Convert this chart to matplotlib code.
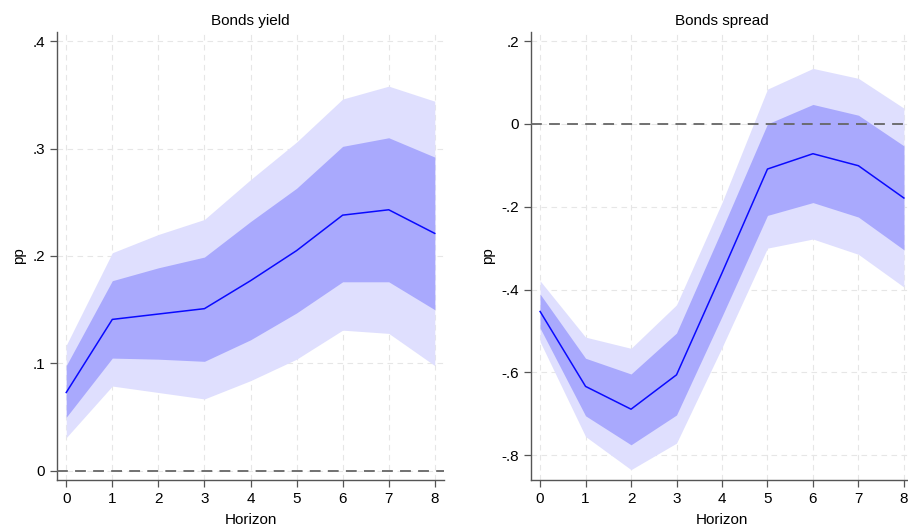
import numpy as np
import matplotlib
matplotlib.use("Agg")
import matplotlib.pyplot as plt
from matplotlib.ticker import FuncFormatter

# %% Data

horizon = [0, 1, 2, 3, 4, 5, 6, 7, 8]

# Bonds yield
yield_mid = [0.073, 0.141, 0.146, 0.151, 0.177, 0.205, 0.238, 0.243, 0.221]
yield_in_hi = [0.098, 0.177, 0.189, 0.199, 0.232, 0.263, 0.302, 0.310, 0.292]
yield_in_lo = [0.050, 0.105, 0.104, 0.102, 0.122, 0.147, 0.176, 0.176, 0.150]
yield_out_hi = [0.117, 0.203, 0.220, 0.234, 0.271, 0.306, 0.346, 0.358, 0.344]
yield_out_lo = [0.031, 0.079, 0.073, 0.067, 0.084, 0.104, 0.131, 0.128, 0.098]

# Bonds spread
spread_mid = [-0.453, -0.634, -0.689, -0.606, -0.360, -0.109, -0.072, -0.101, -0.179]
spread_in_hi = [-0.411, -0.566, -0.604, -0.505, -0.255, 0.000, 0.047, 0.021, -0.053]
spread_in_lo = [-0.493, -0.705, -0.775, -0.703, -0.465, -0.221, -0.190, -0.225, -0.304]
spread_out_hi = [-0.379, -0.515, -0.542, -0.437, -0.190, 0.084, 0.134, 0.110, 0.038]
spread_out_lo = [-0.526, -0.755, -0.835, -0.771, -0.540, -0.300, -0.278, -0.315, -0.394]

yield_ticks = [0, 0.1, 0.2, 0.3, 0.4]
spread_ticks = [-0.8, -0.6, -0.4, -0.2, 0, 0.2]

# %% plot

plt.rcParams['font.family'] = ['Liberation Sans', 'DejaVu Sans']


def stata_fmt(v, pos):
    if abs(v) < 1e-9:
        return "0"
    s = "%g" % round(v, 3)
    return s.replace("0.", ".")


def panel(ax, title, mid, in_lo, in_hi, out_lo, out_hi, ticks, ylim):
    ax.fill_between(horizon, out_lo, out_hi, color='#dfdffe', lw=0, zorder=1)
    ax.fill_between(horizon, in_lo, in_hi, color='#a9a9fd', lw=0, zorder=2)
    ax.plot(horizon, mid, color='#0a0aff', lw=1.1, zorder=3)
    ax.axhline(0, color='#666666', lw=1.3, ls=(0, (6, 4)), zorder=4)

    ax.set_xlim(-0.2, 8.2)
    ax.set_ylim(*ylim)
    ax.set_xticks(horizon)
    ax.set_yticks(ticks)
    ax.yaxis.set_major_formatter(FuncFormatter(stata_fmt))
    ax.grid(True, color='#e6e6e6', lw=0.8, ls=(0, (5, 4)), zorder=0)
    ax.set_axisbelow(True)

    for s in ['top', 'right']:
        ax.spines[s].set_visible(False)
    for s in ['left', 'bottom']:
        ax.spines[s].set_color('#555555')
        ax.spines[s].set_linewidth(1.0)
    ax.tick_params(colors='#555555', labelcolor='black', labelsize=11,
                   length=5, width=0.9)

    ax.set_title(title, fontsize=11, pad=5)
    ax.set_xlabel("Horizon", fontsize=11, labelpad=5)
    ax.set_ylabel("pp", fontsize=11, labelpad=5)


fig = plt.figure(figsize=(9.08, 5.27), dpi=100)
ax1 = fig.add_axes([0.0628, 0.0892, 0.4262, 0.8501])
ax2 = fig.add_axes([0.5848, 0.0892, 0.4207, 0.8501])

panel(ax1, "Bonds yield", yield_mid, yield_in_lo, yield_in_hi,
      yield_out_lo, yield_out_hi, yield_ticks, (-0.0084, 0.4084))
panel(ax2, "Bonds spread", spread_mid, spread_in_lo, spread_in_hi,
      spread_out_lo, spread_out_hi, spread_ticks, (-0.860, 0.222))

fig.savefig("out.png", dpi=100)
